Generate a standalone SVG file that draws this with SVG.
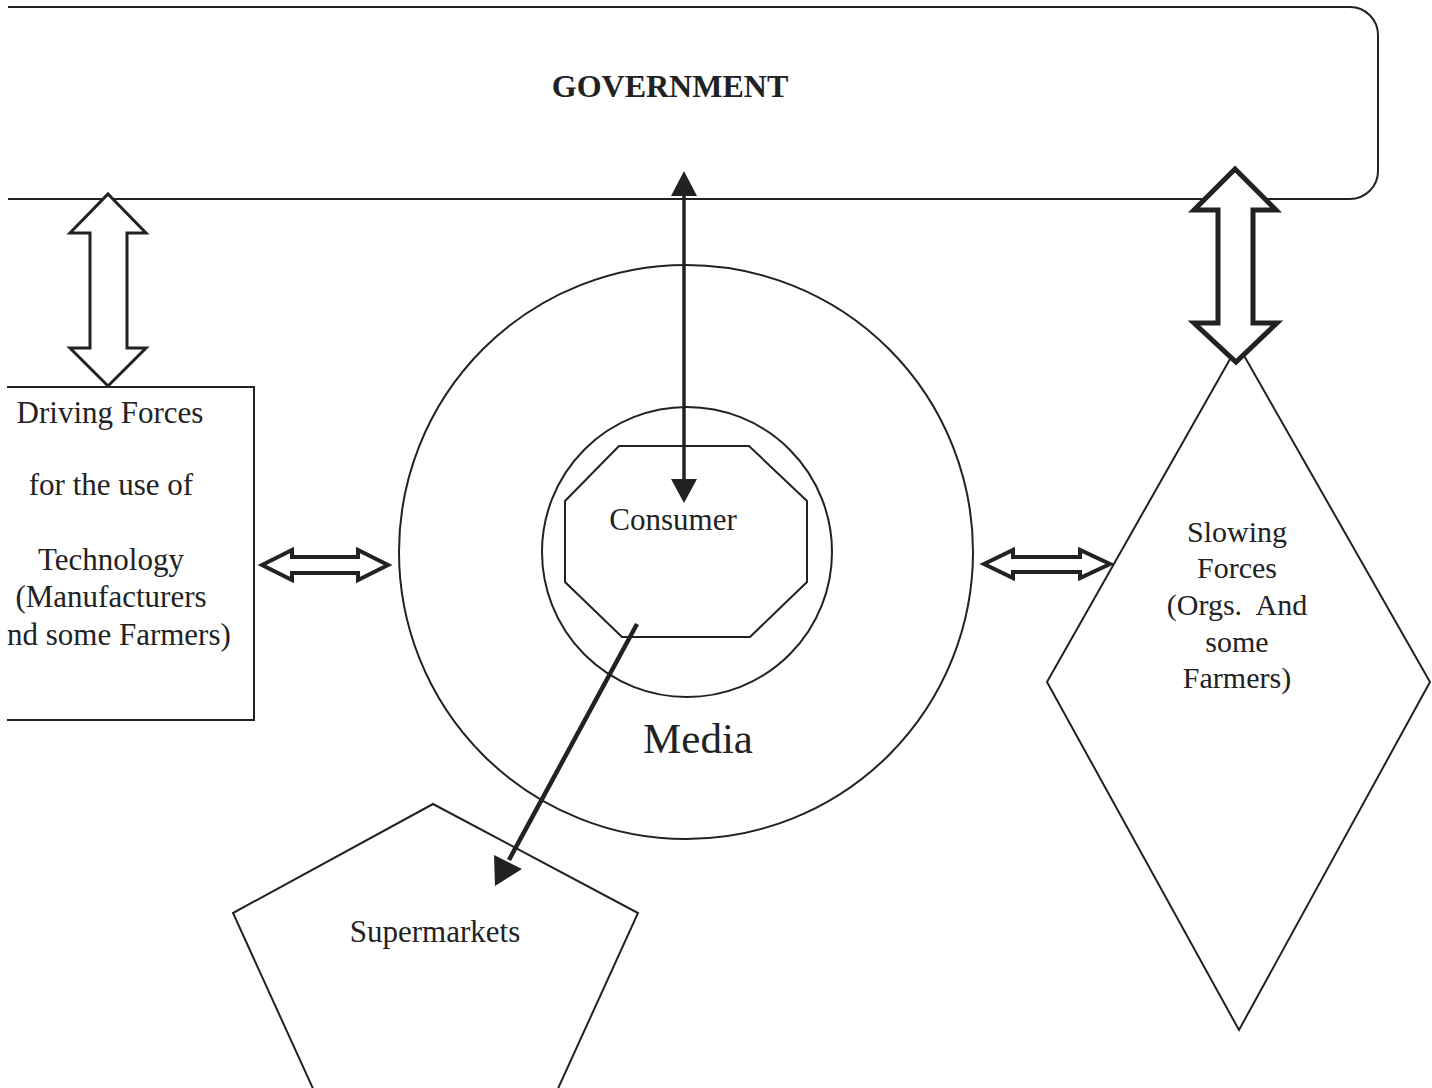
<svg xmlns="http://www.w3.org/2000/svg" width="1432" height="1088" viewBox="0 0 1432 1088">
<style>
.shape{fill:none;stroke:#222;stroke-width:2}
.lbl{font-family:"Liberation Serif","Times New Roman",serif;fill:#222;text-anchor:middle}
.blk{fill:#fff;stroke:#222;stroke-linejoin:miter}
</style>
<defs>
<clipPath id="clipL"><rect x="7" y="0" width="1425" height="1088"/></clipPath>
</defs>
<rect width="1432" height="1088" fill="#fff"/>
<g id="government">
<path class="shape" d="M8,7 H1350 A28,28 0 0 1 1378,35 V171 A28,28 0 0 1 1350,199 H8"/>
<text class="lbl" x="670" y="97" font-size="32" font-weight="bold">GOVERNMENT</text>
</g>
<g id="driving-forces" clip-path="url(#clipL)">
<path class="shape" d="M7,387 H254 V720 H7"/>
<text class="lbl" x="110" y="423" font-size="31">Driving Forces</text>
<text class="lbl" x="111" y="495" font-size="31">for the use of</text>
<text class="lbl" x="111" y="570" font-size="31">Technology</text>
<text class="lbl" x="111" y="607" font-size="31">(Manufacturers</text>
<text class="lbl" x="112" y="645" font-size="31">and some Farmers)</text>
</g>
<g id="media">
<circle class="shape" cx="686" cy="552" r="287"/>
<text class="lbl" x="698" y="753" font-size="43">Media</text>
</g>
<g id="consumer">
<circle class="shape" cx="687" cy="552" r="145"/>
<polygon class="shape" points="619,446 749,446 807,501 807,582 750,637 622,637 565,582 565,501"/>
<text class="lbl" x="673" y="530" font-size="31">Consumer</text>
</g>
<g id="supermarkets">
<polygon class="shape" points="433,804 638,913 530,1150 341,1150 233,913"/>
<text class="lbl" x="435" y="942" font-size="31">Supermarkets</text>
</g>
<g id="slowing-forces">
<polygon class="shape" points="1238,345 1430,682 1239,1030 1047,682"/>
<text class="lbl" x="1237" y="542" font-size="30">Slowing</text>
<text class="lbl" x="1237" y="578" font-size="30">Forces</text>
<text class="lbl" x="1237" y="615" font-size="30" xml:space="preserve">(Orgs.  And</text>
<text class="lbl" x="1237" y="652" font-size="30">some</text>
<text class="lbl" x="1237" y="688" font-size="30">Farmers)</text>
</g>
<g id="connectors">
<polygon class="blk" stroke-width="3" points="108,194 146,233 127,233 127,348 146,348 108,386 70,348 90,348 90,233 70,233"/>
<polygon class="blk" stroke-width="5" points="1235,169 1276,210 1253,210 1253,323 1277,323 1236,362 1194,323 1218,323 1218,210 1194,210"/>
<polygon class="blk" stroke-width="4" points="262,565 292,550 292,557 358,557 358,550 388,565 358,580 358,573 292,573 292,580"/>
<polygon class="blk" stroke-width="4" points="984,564 1013,550 1013,557 1080,557 1080,550 1110,564 1080,578 1080,572 1013,572 1013,578"/>
<line x1="684" y1="192" x2="684" y2="482" stroke="#222" stroke-width="3.5"/>
<polygon fill="#222" points="684,171 697,196 671,196"/>
<polygon fill="#222" points="684,503 697,479 671,479"/>
<line x1="637" y1="624" x2="509" y2="860" stroke="#222" stroke-width="4.5"/>
<polygon fill="#222" points="495,886 494,855 522,869"/>
</g>
</svg>
